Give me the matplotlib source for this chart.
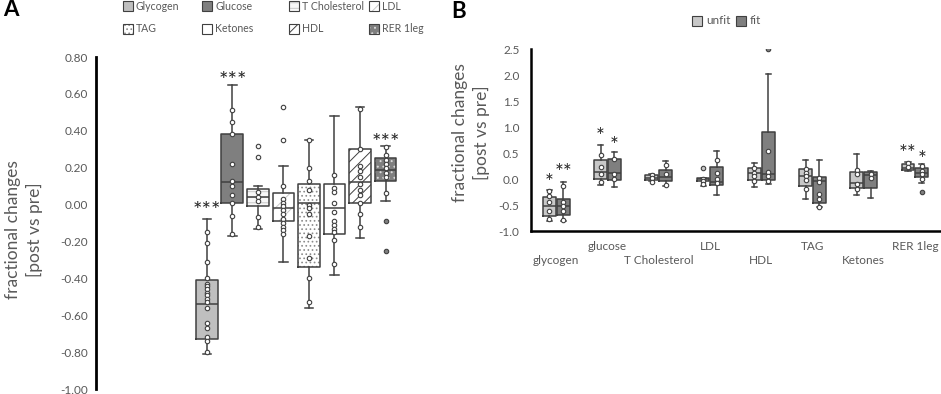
import numpy as np
import matplotlib
matplotlib.use("Agg")
import matplotlib.pyplot as plt
from matplotlib.patches import Rectangle

plt.rcParams["font.family"] = ["Lato", "DejaVu Sans"]
plt.rcParams["axes.unicode_minus"] = False
plt.rcParams["hatch.linewidth"] = 0.7

EDGE = "#404040"
GREY_TXT = "#595959"

# ---- panel A data ----
cats_a = ["Glycogen", "Glucose", "T Cholesterol", "LDL", "TAG", "Ketones", "HDL", "RER 1leg"]
q1_a = [-0.73, 0.01, -0.01, -0.09, -0.34, -0.16, 0.01, 0.13]
med_a = [-0.54, 0.12, 0.04, -0.02, 0.01, -0.02, 0.12, 0.19]
q3_a = [-0.41, 0.38, 0.085, 0.06, 0.11, 0.11, 0.30, 0.25]
lo_a = [-0.81, -0.17, -0.13, -0.31, -0.56, -0.38, -0.18, 0.02]
hi_a = [-0.08, 0.65, 0.10, 0.21, 0.35, 0.48, 0.53, 0.32]
pts_a = [
    [-0.15, -0.21, -0.31, -0.40, -0.43, -0.44, -0.46, -0.48, -0.49, -0.51, -0.53, -0.56, -0.64, -0.67, -0.72, -0.74, -0.80],
    [0.51, 0.45, 0.38, 0.22, 0.13, 0.10, 0.05, 0.01, -0.06, -0.16],
    [0.07, 0.04, 0.02, -0.07, -0.12],
    [0.10, 0.03, 0.01, -0.01, -0.03, -0.05, -0.08, -0.10, -0.12, -0.14, -0.16],
    [0.35, 0.20, 0.13, 0.08, 0.00, -0.02, -0.05, -0.17, -0.29, -0.40, -0.53],
    [0.16, 0.09, 0.07, 0.01, -0.04, -0.09, -0.11, -0.13, -0.15, -0.19, -0.32],
    [0.52, 0.30, 0.21, 0.18, 0.15, 0.11, 0.08, 0.05, 0.01, -0.05, -0.12],
    [0.31, 0.27, 0.24, 0.22, 0.20, 0.17, 0.15, 0.06],
]
out_a = [[], [], [0.32, 0.26], [0.53, 0.35], [], [], [], [-0.09, -0.25]]
stars_a = ["***", "***", "", "", "", "", "", "***"]
star_y_a = [0.0, 0.71, 0, 0, 0, 0, 0, 0.37]
yticks_a = [-1.0, -0.8, -0.6, -0.4, -0.2, 0.0, 0.2, 0.4, 0.6, 0.8]

faces_a = ["#bfbfbf", "#7f7f7f", "#f7f7f7", "white", "white", "white", "white", "#7f7f7f"]
hatch_a = [None, None, "---", "//", "....", None, "///", "..."]
hcol_a = [EDGE, EDGE, "#c8c8c8", "#c8c8c8", "#8c8c8c", EDGE, EDGE, "#d9d9d9"]

# ---- panel B data ----
cats_b = ["glycogen", "glucose", "T Cholesterol", "LDL", "HDL", "TAG", "Ketones", "RER 1leg"]
groups_b = ["unfit", "fit"]
q1_unfit = [-0.72, 0.01, -0.02, -0.04, -0.01, -0.125, -0.17, 0.17]
med_unfit = [-0.52, 0.13, 0.02, 0.00, 0.12, 0.05, -0.07, 0.21]
q3_unfit = [-0.34, 0.36, 0.07, 0.02, 0.215, 0.20, 0.14, 0.30]
lo_unfit = [-0.81, -0.12, -0.04, -0.14, -0.16, -0.38, -0.31, 0.16]
hi_unfit = [-0.21, 0.66, 0.10, 0.03, 0.31, 0.36, 0.48, 0.32]
pts_unfit = [[-0.22, -0.33, -0.45, -0.61, -0.76], [0.47, 0.23, 0.10, -0.05], [0.08, 0.03, -0.06],
             [0.00, -0.03, -0.10], [0.22, 0.12, 0.05, -0.04], [0.20, 0.12, 0.05, -0.01, -0.20],
             [0.18, 0.10, -0.10, -0.20], [0.31, 0.23]]
out_unfit = [[], [], [], [0.22], [], [], [], []]

q1_fit = [-0.70, -0.01, -0.03, -0.12, -0.01, -0.46, -0.18, 0.04]
med_fit = [-0.51, 0.12, 0.04, -0.055, 0.09, -0.04, 0.087, 0.12]
q3_fit = [-0.39, 0.39, 0.17, 0.235, 0.91, 0.04, 0.14, 0.215]
lo_fit = [-0.80, -0.16, -0.14, -0.30, -0.09, -0.54, -0.36, -0.07]
hi_fit = [-0.05, 0.52, 0.34, 0.55, 2.03, 0.36, 0.16, 0.29]
pts_fit = [[-0.14, -0.45, -0.52, -0.62, -0.78], [0.39, 0.10, 0.01], [0.27, 0.09, -0.12],
           [0.36, 0.11, 0.00, -0.07], [0.55, 0.14, 0.05, -0.04], [0.03, -0.06, -0.28, -0.38, -0.54],
           [0.09, 0.02], [0.26, 0.15, 0.09, 0.00]]
out_fit = [[], [], [], [], [2.51], [], [], [-0.24]]

stars_unfit = ["*", "*", "", "", "", "", "", "**"]
star_y_unfit = [0.05, 0.94, 0, 0, 0, 0, 0, 0.61]
stars_fit = ["**", "*", "", "", "", "", "", "*"]
star_y_fit = [0.25, 0.78, 0, 0, 0, 0, 0, 0.50]
yticks_b = [-1.0, -0.5, 0.0, 0.5, 1.0, 1.5, 2.0, 2.5]

face_b = {"unfit": "#c8c8c8", "fit": "#7f7f7f"}


def draw_boxes(ax, pos, q1, med, q3, lo, hi, faces, hatches, hcols, width, capw):
    stats = [dict(q1=a, med=b, q3=c, whislo=d, whishi=e) for a, b, c, d, e in zip(q1, med, q3, lo, hi)]
    bp = ax.bxp(stats, positions=pos, widths=width, patch_artist=True, showcaps=False,
                showfliers=False, boxprops=dict(linewidth=0),
                whiskerprops=dict(linewidth=0), medianprops=dict(linewidth=0), manage_ticks=False)
    for patch, fc, h, hc in zip(bp["boxes"], faces, hatches, hcols):
        patch.set_facecolor(fc)
        patch.set_edgecolor(hc)
        patch.set_hatch(h)
    line = dict(color=EDGE, linewidth=1.1)
    ax.bxp(stats, positions=pos, widths=width, capwidths=capw, showfliers=False,
           boxprops=line, whiskerprops=line, capprops=line, medianprops=line, manage_ticks=False)


def draw_points(ax, pos, pts, outs, faces):
    for x, p, o, fc in zip(pos, pts, outs, faces):
        ax.plot([x] * len(p), p, "o", ms=3.2, mfc="white", mec=EDGE, mew=0.8, zorder=4)
        if o:
            ax.plot([x] * len(o), o, "o", ms=3.2, mfc=fc, mec=EDGE, mew=0.8, zorder=4)


def draw_stars(ax, pos, stars, ys, size):
    for x, s, y in zip(pos, stars, ys):
        if s:
            ax.annotate(s, (x, y), xytext=(0, -5), textcoords="offset points", ha="center",
                        va="center", fontsize=size, color="#262626")


fig = plt.figure(figsize=(9.41, 3.94), dpi=100)
W, H = 941, 394

# ---------- panel A ----------
axA = fig.add_axes([96 / W, 1 - 389 / H, (410 - 96) / W, (389 - 57) / H])
xa = np.arange(len(cats_a))
draw_boxes(axA, xa, q1_a, med_a, q3_a, lo_a, hi_a, faces_a, hatch_a, hcol_a, 0.86, 0.34)
draw_points(axA, xa, pts_a, out_a, faces_a)
draw_stars(axA, xa, stars_a, star_y_a, 16)
axA.set_xlim(-4.35, 7.96)
axA.set_ylim(-1.0, 0.8)
axA.set_yticks(yticks_a)
axA.set_yticklabels([f"{v:.2f}" for v in yticks_a])
axA.set_xticks([])
for s in ["top", "right", "bottom"]:
    axA.spines[s].set_visible(False)
axA.spines["left"].set_linewidth(2)
axA.tick_params(axis="y", length=0, pad=6, labelsize=8.5, labelcolor=GREY_TXT)
fig.text(24 / W, 1 - 230 / H, "fractional changes\n[post vs pre]", rotation=90, ha="center",
         va="center", fontsize=12.5, color=GREY_TXT, linespacing=1.3)

# legend A
leg_x = [123, 202, 289, 369]
leg_y = [6, 29]
for i, name in enumerate(cats_a):
    x0 = leg_x[i % 4]
    yc = leg_y[i // 4]
    fig.add_artist(Rectangle((x0 / W, 1 - (yc + 5) / H), 10 / W, 10 / H, transform=fig.transFigure,
                             facecolor=faces_a[i], edgecolor=hcol_a[i], hatch=hatch_a[i], lw=0))
    fig.add_artist(Rectangle((x0 / W, 1 - (yc + 5) / H), 10 / W, 10 / H, transform=fig.transFigure,
                             fill=False, edgecolor=EDGE, lw=0.8))
    fig.text((x0 + 13) / W, 1 - yc / H, name, ha="left", va="center", fontsize=7.6, color=GREY_TXT)

# ---------- panel B ----------
axB = fig.add_axes([530.7 / W, 1 - 231 / H, (940.5 - 530.7) / W, (231 - 49.3) / H])
xb = np.arange(len(cats_b))
off = 0.135
bw = 0.25
draw_boxes(axB, xb - off, q1_unfit, med_unfit, q3_unfit, lo_unfit, hi_unfit,
           [face_b["unfit"]] * 8, [None] * 8, [EDGE] * 8, bw, 0.1)
draw_boxes(axB, xb + off, q1_fit, med_fit, q3_fit, lo_fit, hi_fit,
           [face_b["fit"]] * 8, [None] * 8, [EDGE] * 8, bw, 0.1)
draw_points(axB, xb - off, pts_unfit, out_unfit, [face_b["unfit"]] * 8)
draw_points(axB, xb + off, pts_fit, out_fit, [face_b["fit"]] * 8)
draw_stars(axB, xb - off, stars_unfit, star_y_unfit, 15)
draw_stars(axB, xb + off, stars_fit, star_y_fit, 15)
axB.set_xlim(-0.5, 7.5)
axB.set_ylim(-1.0, 2.5)
axB.set_yticks(yticks_b)
axB.set_yticklabels([f"{v:.1f}" for v in yticks_b])
axB.set_xticks([])
for s in ["top", "right"]:
    axB.spines[s].set_visible(False)
axB.spines["left"].set_linewidth(1.8)
axB.spines["bottom"].set_linewidth(1.8)
axB.tick_params(axis="y", length=0, pad=8, labelsize=8.5, labelcolor=GREY_TXT)
for i, name in enumerate(cats_b):
    yl = -0.16 if i % 2 == 0 else -0.087
    axB.text(xb[i], yl, name, transform=axB.get_xaxis_transform(), ha="center", va="center",
             fontsize=8.5, color=GREY_TXT)
fig.text(471 / W, 1 - 133 / H, "fractional changes\n[post vs pre]", rotation=90, ha="center",
         va="center", fontsize=12.5, color=GREY_TXT, linespacing=1.3)

# legend B
for x0, g in zip([692, 736], groups_b):
    fig.add_artist(Rectangle((x0 / W, 1 - 26 / H), 10 / W, 10 / H, transform=fig.transFigure,
                             facecolor=face_b[g], edgecolor=EDGE, lw=0.8))
    fig.text((x0 + 14) / W, 1 - 21 / H, g, ha="left", va="center", fontsize=8.5, color=GREY_TXT)

fig.text(3 / W, 1 - 10 / H, "A", ha="left", va="center", fontsize=16, fontweight="bold", color="black")
fig.text(451 / W, 1 - 11 / H, "B", ha="left", va="center", fontsize=16, fontweight="bold", color="black")

fig.savefig("out.png", dpi=100)
